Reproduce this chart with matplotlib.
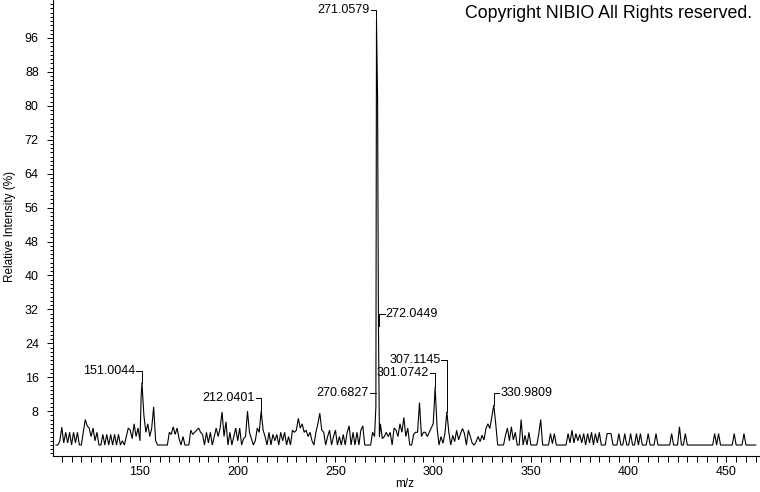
import matplotlib
matplotlib.use("Agg")
import matplotlib.pyplot as plt
from matplotlib.ticker import MultipleLocator, FixedLocator
import numpy as np

plt.rcParams["font.family"] = ["Liberation Sans", "DejaVu Sans"]

# ---- spectrum data (relative intensity %, 1-Da grid from m/z 107 to 465) ----
grid_start = 107
grid_intensity = [
    0, 0, 1, 4.2, 0.5, 3, 0.5, 3, 0, 3,          # 107-116
    0.5, 3, 0, 0, 3, 6, 4.5, 4, 2, 4,            # 117-126
    1, 3, 0, 0, 2.5, 0, 2.5, 0, 2.5, 0,          # 127-136
    2.5, 0, 2.5, 0, 1, 0, 2, 4, 3.5, 1.5,        # 137-146
    5, 2, 4, 1, 14.7, 7, 3, 5, 2, 4,             # 147-156
    9, 1, 0, 0, 0, 0, 0, 0, 3, 2.5,              # 157-166
    4.3, 2.5, 4, 1.5, 0, 2, 0, 0, 0, 3.5,        # 167-176
    2.5, 3, 3.5, 4, 3, 2.5, 0, 3, 0.5, 3,        # 177-186
    0, 2, 4, 2, 4, 7.8, 2, 5.5, 0, 3,            # 187-196
    0, 2, 4, 1, 4, 0, 1.5, 2, 8, 3,              # 197-206
    1.5, 0, 1, 4, 3, 8, 3.5, 2, 0, 3,            # 207-216
    0, 2.5, 1, 2.5, 0, 3, 1, 3, 0, 2,            # 217-226
    0, 3.5, 3, 3.5, 6.3, 4, 5, 3, 3.5, 2,        # 227-236
    3, 1, 0, 3, 5, 7.5, 3.5, 3, 0, 2,            # 237-246
    3.5, 0, 2, 3.5, 0, 2, 0, 2.5, 0, 3,          # 247-256
    4.5, 0, 3, 0, 3, 0, 3.5, 4.5, 0, 0,          # 257-266
    0, 0, 3, 2, 100, 28, 5, 1.5, 2, 3,           # 267-276
    2, 3, 0, 4, 3.5, 2, 5, 3, 6.5, 2,            # 277-286
    4, 0, 0, 2.5, 3, 3, 10, 2, 3, 3,             # 287-296
    2, 3, 4, 5, 13.7, 4, 0, 2, 0.4, 2.7,         # 297-306
    7.8, 3, 0, 2.3, 0.8, 3.5, 1.2, 2.7, 3.9, 2.7,  # 307-316
    0, 3.5, 2, 0.4, 0, 0.8, 2, 0.8, 2.3, 1.2,    # 317-326
    3.9, 5, 3.9, 6.7, 9.4, 5, 0, 0, 0, 0,        # 327-336
    2.3, 4, 1, 4.3, 1.2, 3, 0, 0, 6, 0,          # 337-346
    2.3, 0, 3, 0, 0, 0, 0, 2.5, 6, 0,            # 347-356
    0, 0, 0, 2.7, 0.3, 2.7, 0, 0, 0, 0,          # 357-366
    0, 0, 2.7, 0.5, 3.5, 0.5, 2.7, 1, 2.5, 0.5,  # 367-376
    2.7, 0, 2.7, 0.5, 3, 0, 2.7, 0.5, 3, 0,      # 377-386
    0, 0, 2.7, 2.7, 2.7, 0, 0, 0, 2.7, 0,        # 387-396
    0, 2.7, 0, 0, 2.7, 0, 0, 2.7, 0, 2.7,        # 397-406
    0, 0, 0, 2.7, 0, 0, 0, 2.7, 0, 0,            # 407-416
    0, 0, 0, 0, 0, 2.7, 0, 0, 0, 4.3,            # 417-426
    0, 0, 2.7, 0, 0, 0, 0, 0, 0, 0,              # 427-436
    0, 0, 0, 0, 0, 0, 0, 2.7, 0, 2.7,            # 437-446
    0, 0, 0, 0, 0, 0, 0, 2.7, 0, 0,              # 447-456
    0, 0, 2.7, 0, 0, 0, 0, 0, 0,                 # 457-465
]
# extra profile points between grid positions (sharp peaks)
extra_mz = [150.6, 270.68, 271.55, 272.5, 300.5]
extra_intensity = [11.5, 9, 82, 2, 9]

# ---- peak labels ----
label_text = ["151.0044", "212.0401", "270.6827", "271.0579",
              "272.0449", "301.0742", "307.1145", "330.9809"]
label_mz = [151, 212, 270.68, 271, 272, 301, 307, 331]
label_peak = [14.7, 8, 9, 100, 28, 13.7, 7.8, 9.4]
label_level = [17.4, 11, 12.2, 102.6, 30.8, 16.9, 20, 12.3]
label_side = ["L", "L", "Ldash", "L", "Rdash", "L", "L", "R"]

x_ticks = [150, 200, 250, 300, 350, 400, 450]
y_ticks = [8, 16, 24, 32, 40, 48, 56, 64, 72, 80, 88, 96]

# combine and sort
grid_mz = np.arange(grid_start, grid_start + len(grid_intensity))
mz_all = np.concatenate([grid_mz, np.array(extra_mz)])
int_all = np.concatenate([np.array(grid_intensity, float), np.array(extra_intensity, float)])
order = np.argsort(mz_all)
mz_all = mz_all[order]
int_all = int_all[order]

W, H = 760, 492
fig = plt.figure(figsize=(W / 100, H / 100), dpi=100)
ax = fig.add_axes([53 / W, 36 / H, 707 / W, 456 / H])
ax.plot(mz_all, int_all, color="black", lw=0.8, solid_joinstyle="miter")

ax.set_xlim(105.5, 467.2)
ax.set_ylim(-2.59, 104.96)

for s in ["top", "right"]:
    ax.spines[s].set_visible(False)
for s in ["left", "bottom"]:
    ax.spines[s].set_linewidth(0.8)

ax.xaxis.set_major_locator(FixedLocator(x_ticks))
ax.xaxis.set_minor_locator(MultipleLocator(5))
ax.yaxis.set_major_locator(FixedLocator(y_ticks))
ax.yaxis.set_minor_locator(MultipleLocator(1))
ax.tick_params(axis="x", which="major", direction="out", length=4.5, width=0.7,
               labelsize=9, pad=2.5)
ax.tick_params(axis="x", which="minor", direction="out", length=4.0, width=0.7)
ax.tick_params(axis="y", which="major", direction="out", length=4.2, width=0.7,
               labelsize=9, pad=6.0)
ax.tick_params(axis="y", which="minor", direction="out", length=2.2, width=0.7)

arm = 2.8
gap = 0.5
fs = 9
for txt, mz, pk, lv, side in zip(label_text, label_mz, label_peak, label_level, label_side):
    if side == "L":
        ax.plot([mz - arm, mz, mz], [lv, lv, pk], color="black", lw=0.7)
        ax.text(mz - arm - gap, lv, txt, ha="right", va="center", fontsize=fs)
    elif side == "R":
        ax.plot([mz + arm, mz, mz], [lv, lv, pk], color="black", lw=0.7)
        ax.text(mz + arm + gap, lv, txt, ha="left", va="center", fontsize=fs)
    elif side == "Ldash":
        xe = mz + 0.2
        ax.plot([xe - arm - 0.6, xe], [lv, lv], color="black", lw=0.7)
        ax.text(xe - arm - 0.6 - gap, lv, txt, ha="right", va="center", fontsize=fs)
    elif side == "Rdash":
        xs = mz + 0.3
        ax.plot([xs, xs], [pk, lv], color="black", lw=0.7)
        ax.plot([xs, xs + arm], [lv, lv], color="black", lw=0.7)
        ax.text(xs + arm + gap, lv, txt, ha="left", va="center", fontsize=fs)

fig.text(405 / W, 1 - 484 / H, "m/z", ha="center", va="center", fontsize=8.5)
fig.text(10 / W, 1 - 226 / H, "Relative Intensity (%)", ha="center", va="center",
         rotation=90, fontsize=8.5)
fig.text(752 / W, 1 - 14 / H, "Copyright NIBIO All Rights reserved.", ha="right",
         va="center", fontsize=12.8)

fig.savefig("out.png", dpi=100, facecolor="white")
